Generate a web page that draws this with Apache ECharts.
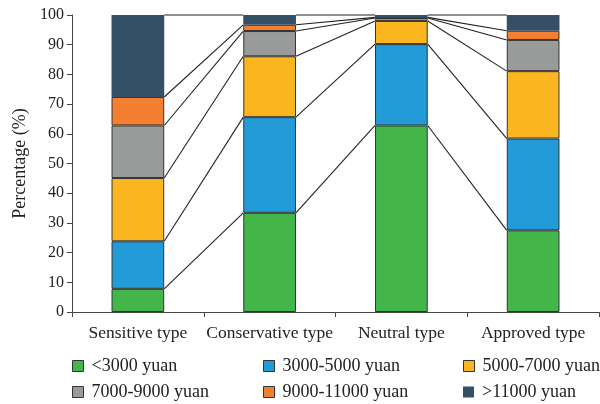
<!DOCTYPE html>
<html>
<head>
<meta charset="utf-8">
<script src="https://cdn.jsdelivr.net/npm/echarts@6/dist/echarts.min.js"></script>
<style>
  html, body { margin: 0; padding: 0; background: #fff; }
  #chart { width: 600px; height: 404px; }
</style>
</head>
<body>
<div id="chart"></div>
<script>
// Income distribution (%) by investor type
const categories = ['Sensitive type', 'Conservative type', 'Neutral type', 'Approved type'];
const seriesNames = ['<3000 yuan', '3000-5000 yuan', '5000-7000 yuan', '7000-9000 yuan', '9000-11000 yuan', '>11000 yuan'];
const below3000 = [7.8, 33.4, 62.8, 27.5];
const from3000to5000 = [16.0, 32.2, 27.4, 30.9];
const from5000to7000 = [21.3, 20.5, 7.8, 22.7];
const from7000to9000 = [17.7, 8.5, 1.0, 10.5];
const from9000to11000 = [9.6, 2.1, 0.2, 3.1];
const above11000 = [27.6, 3.3, 0.8, 5.3];
const yTicks = [0, 10, 20, 30, 40, 50, 60, 70, 80, 90, 100];

const values = [below3000, from3000to5000, from5000to7000, from7000to9000, from9000to11000, above11000];
const colors = ['#43b549', '#229bd8', '#fbb51f', '#999b9b', '#f28030', '#344f66'];
const FONT = 'Liberation Serif';
const BAR_RATIO = 0.4;

// cumulative top of each stacked segment, per category
const cumulative = categories.map((_, c) => {
  let s = 0;
  return values.map(v => (s += v[c]));
});

// connector segments: from right edge of bar c to left edge of bar c+1 at each level
const connectors = [];
for (let c = 0; c < categories.length - 1; c++) {
  for (let k = 0; k < values.length; k++) {
    connectors.push([c, cumulative[c][k], cumulative[c + 1][k]]);
  }
}

const barSeries = seriesNames.map((name, i) => ({
  name: name,
  type: 'bar',
  stack: 'total',
  barWidth: (BAR_RATIO * 100) + '%',
  data: values[i],
  itemStyle: {
    color: colors[i],
    borderColor: '#333',
    borderWidth: i === values.length - 1 ? 0 : 1
  },
  emphasis: { disabled: true }
}));

const connectorSeries = {
  type: 'custom',
  silent: true,
  z: 1,
  data: connectors,
  renderItem: function (params, api) {
    const c = api.value(0);
    const p1 = api.coord([c, api.value(1)]);
    const p2 = api.coord([c + 1, api.value(2)]);
    const half = api.size([1, 0])[0] * BAR_RATIO / 2;
    return {
      type: 'line',
      shape: { x1: p1[0] + half, y1: p1[1], x2: p2[0] - half, y2: p2[1] },
      style: { stroke: '#222', lineWidth: 1.1 }
    };
  }
};

// legend laid out as a 3 x 2 grid, one legend block per entry
const legendCols = [72, 263, 463];
const legendRows = [357, 383];
function legendItem(i) {
  return {
    left: legendCols[i % 3],
    top: legendRows[Math.floor(i / 3)],
    padding: 0,
    itemWidth: 11,
    itemHeight: 11,
    icon: 'rect',
    selectedMode: false,
    data: [{
      name: seriesNames[i],
      itemStyle: {
        color: colors[i],
        borderColor: '#333',
        borderWidth: i === values.length - 1 ? 0 : 1
      }
    }],
    textStyle: { fontFamily: FONT, fontSize: 18, color: '#222', padding: [0, 0, 0, 3] }
  };
}

const chart = echarts.init(document.getElementById('chart'));
chart.setOption({
  animation: false,
  grid: { left: 72, right: 1, top: 15, bottom: 92 },
  legend: seriesNames.map((_, i) => legendItem(i)),
  xAxis: {
    type: 'category',
    data: categories,
    axisLine: { lineStyle: { color: '#444', width: 1 } },
    axisTick: { show: true, inside: false, length: 5, lineStyle: { color: '#444' } },
    axisLabel: { interval: 0, fontFamily: FONT, fontSize: 17.5, color: '#222', margin: 12 }
  },
  yAxis: {
    type: 'value',
    min: yTicks[0],
    max: yTicks[yTicks.length - 1],
    interval: yTicks[1] - yTicks[0],
    name: 'Percentage (%)',
    nameLocation: 'middle',
    nameGap: 41,
    nameTextStyle: { fontFamily: FONT, fontSize: 18, color: '#222' },
    axisLine: { show: true, lineStyle: { color: '#444', width: 1 } },
    axisTick: { show: true, length: 5, lineStyle: { color: '#444' } },
    splitLine: { show: false },
    axisLabel: { fontFamily: FONT, fontSize: 16, color: '#222', margin: 8 }
  },
  series: barSeries.concat([connectorSeries])
});
</script>
</body>
</html>
